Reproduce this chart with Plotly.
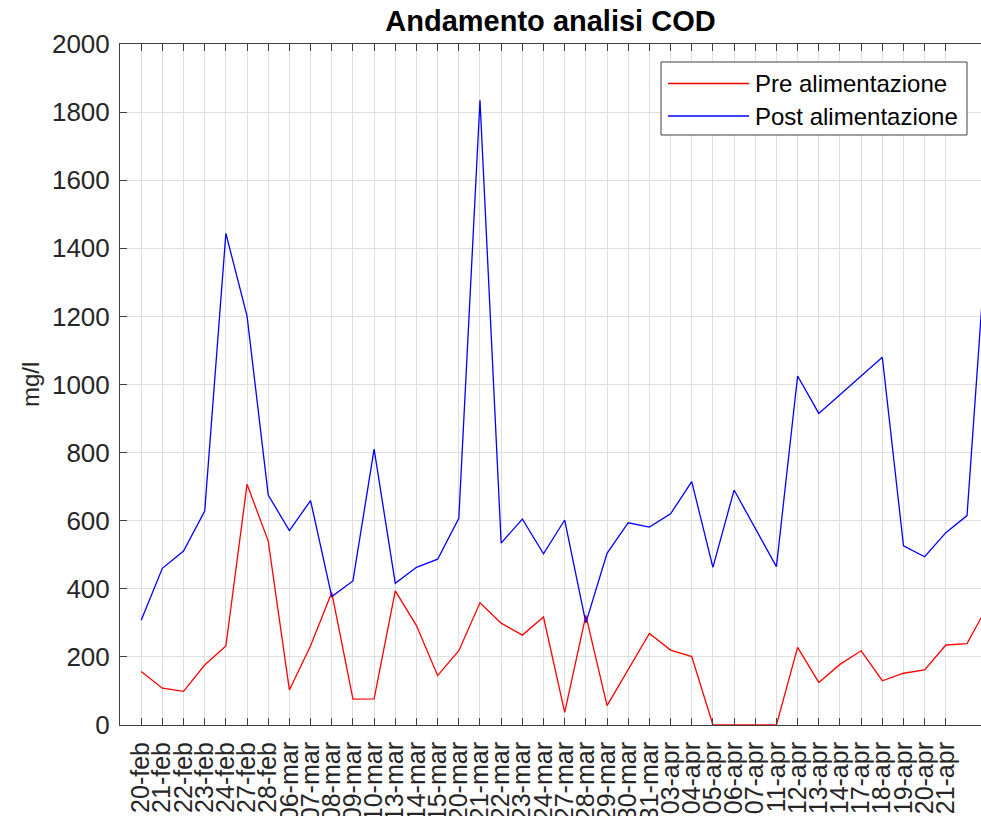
import plotly.graph_objects as go

# date labels (only the labelled ticks)
date_labels = ["20-feb", "21-feb", "22-feb", "23-feb", "24-feb", "27-feb", "28-feb",
               "06-mar", "07-mar", "08-mar", "09-mar", "10-mar", "13-mar", "14-mar",
               "15-mar", "20-mar", "21-mar", "22-mar", "23-mar", "24-mar", "27-mar",
               "28-mar", "29-mar", "30-mar", "31-mar", "03-apr", "04-apr", "05-apr",
               "06-apr", "07-apr", "11-apr", "12-apr", "13-apr", "14-apr", "17-apr",
               "18-apr", "19-apr", "20-apr", "21-apr"]

# COD values mg/l
pre = [157, 108, 99, 176, 232, 707, 540, 103, 233, 389, 76, 77, 394, 292, 145, 218,
       359, 299, 264, 317, 37, 322, 57, 163, 269, 220, 201, 0, 0, 0, 0, 228, 125,
       178, 218, 130, 152, 162, 235, 239, 353]
post = [308, 460, 511, 628, 1444, 1201, 675, 571, 659, 377, 423, 810, 416, 463, 487,
        607, 1835, 534, 605, 503, 602, 300, 504, 594, 581, 620, 715, 463, 690, 578,
        465, 1025, 915, 970, 1025, 1080, 526, 494, 565, 615, 1500]

x = list(range(len(pre)))
FONT = "Liberation Sans, Arial, sans-serif"
AX = "#404040"

fig = go.Figure()
fig.add_trace(go.Scatter(x=x, y=pre, mode="lines", name="Pre alimentazione",
                         line=dict(color="#ff0000", width=1.3), showlegend=False))
fig.add_trace(go.Scatter(x=x, y=post, mode="lines", name="Post alimentazione",
                         line=dict(color="#0000ff", width=1.3), showlegend=False))

fig.update_layout(
    width=981, height=816,
    margin=dict(l=120, r=0, t=44, b=91, autoexpand=False),
    plot_bgcolor="white", paper_bgcolor="white",
    font=dict(family=FONT, size=24, color="#262626"),
    title=dict(text="<b>Andamento analisi COD</b>", x=0.5, xref="paper",
               y=1 - 21 / 816, yref="container", yanchor="middle", xanchor="center",
               font=dict(family=FONT, size=29, color="black")),
)
fig.update_xaxes(range=[-1, 39.66], tickvals=list(range(len(date_labels))),
                 ticktext=date_labels, tickangle=-90, tickfont=dict(size=25),
                 automargin=False, ticklabelstandoff=6,
                 showgrid=True, gridcolor="#dfdfdf", gridwidth=1,
                 showline=True, linecolor=AX, linewidth=1, mirror="ticks",
                 ticks="inside", ticklen=7, tickcolor=AX, zeroline=False)
fig.update_yaxes(range=[0, 2000], dtick=200, tickfont=dict(size=26),
                 automargin=False, ticklabelstandoff=4,
                 showgrid=True, gridcolor="#dfdfdf", gridwidth=1,
                 showline=True, linecolor=AX, linewidth=1,
                 ticks="inside", ticklen=7, tickcolor=AX, zeroline=False)

# y label
fig.add_annotation(text="mg/l", xref="paper", yref="paper", x=(30 - 120) / 861,
                   y=(725 - 385) / 681, textangle=-90, showarrow=False,
                   xanchor="center", yanchor="middle", font=dict(size=24))

# legend drawn by hand (MATLAB-style long line samples)
def px(v):
    return (v - 120) / 861

def py(v):
    return (725 - v) / 681

fig.add_shape(type="rect", xref="paper", yref="paper", x0=px(661), x1=px(967),
              y0=py(135), y1=py(62), line=dict(color=AX, width=1), fillcolor="white")
for name, color, yy in [("Pre alimentazione", "#ff0000", 83.5),
                        ("Post alimentazione", "#0000ff", 116)]:
    fig.add_shape(type="line", xref="paper", yref="paper", x0=px(668), x1=px(749),
                  y0=py(yy), y1=py(yy), line=dict(color=color, width=1.3))
    fig.add_annotation(text=name, xref="paper", yref="paper", x=px(753), y=py(yy),
                       xanchor="left", yanchor="middle", showarrow=False,
                       font=dict(size=24, color="black"))

# drop the default 8px body margin so the figure fills the window exactly
fig.write_html("out.html", config={"displayModeBar": False},
               post_script="document.body.style.margin = '0';")
